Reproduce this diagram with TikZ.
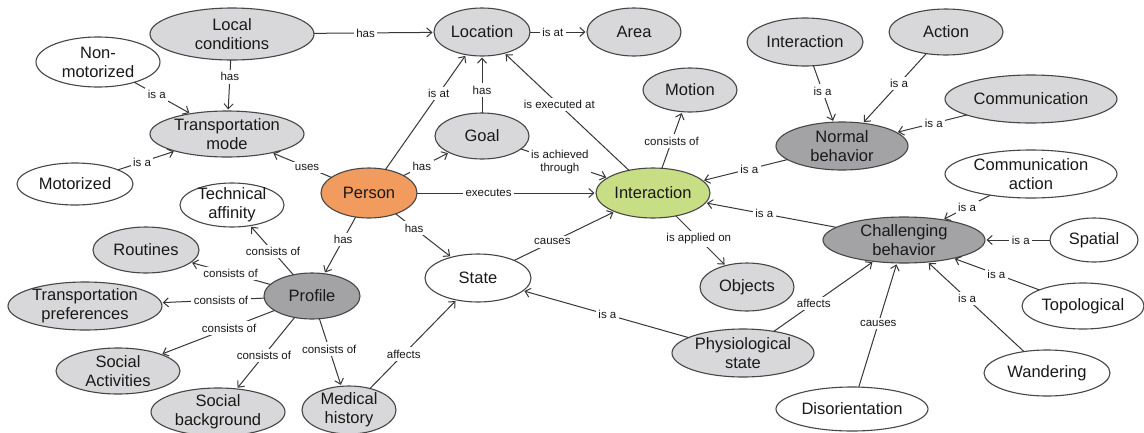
\documentclass[tikz,border=0pt]{standalone}
\usepackage{fontspec}
\setmainfont{Liberation Sans}
\usetikzlibrary{shapes.geometric,arrows.meta}
\definecolor{lgfill}{RGB}{216,216,218}
\definecolor{dgfill}{RGB}{163,163,166}
\definecolor{orfill}{RGB}{241,155,95}
\definecolor{grfill}{RGB}{200,222,133}
\definecolor{bord}{RGB}{70,70,70}
\definecolor{edgec}{RGB}{55,55,55}
\newcommand\enode[6]{%
  \node[#1, minimum width=2*#4, minimum height=2*#5] (#2) at (#3) {};
  \node[ntext] (#2-t) at (#2.center) {#6};}
\tikzset{
  base/.style={ellipse, draw=bord, line width=1.1pt, inner sep=0pt, outer sep=0pt},
  lf/.style={base, fill=lgfill},
  wf/.style={base, fill=white},
  df/.style={base, fill=dgfill},
  of/.style={base, fill=orfill},
  gf/.style={base, fill=grfill},
  ntext/.style={align=center, inner sep=0pt, font=\fontsize{16.5}{19}\selectfont, text=black!90},
  edge/.style={draw=edgec, line width=1pt, -{Straight Barb[length=5pt,width=9pt,line width=1pt]}, shorten >=1.5pt},
  lbl/.style={fill=white, inner sep=2.5pt, align=center, font=\fontsize{11.5}{12.5}\selectfont, text=black!90},
}
\begin{document}
\begin{tikzpicture}[x=1pt,y=-1pt]
\useasboundingbox[fill=white] (0,0) rectangle (1144,432);
% nodes
\enode{lf}{lc}{232,34}{82}{26}{Local\\conditions}
\enode{wf}{nm}{98,62}{62}{25}{Non-\\motorized}
\enode{lf}{tm}{227,134}{77}{23}{Transportation\\mode}
\enode{wf}{mo}{75,184}{58}{21}{Motorized}
\enode{wf}{ta}{232,205}{52}{22}{Technical\\affinity}
\enode{of}{pe}{369,193}{48}{25}{Person}
\enode{lf}{loc}{482,32}{48}{24}{Location}
\enode{lf}{area}{634,32}{47}{24}{Area}
\enode{lf}{goal}{482,136}{47}{23}{Goal}
\enode{lf}{mot}{690,90}{47}{22}{Motion}
\enode{gf}{int}{653,193}{57}{25}{Interaction}
\enode{lf}{intb}{805,42}{58}{24}{Interaction}
\enode{lf}{act}{946,32}{57}{23}{Action}
\enode{lf}{com}{1031,99}{86}{24}{Communication}
\enode{df}{nb}{842,146}{66}{24}{Normal\\behavior}
\enode{wf}{ca}{1031,174}{86}{24}{Communication\\action}
\enode{df}{cb}{904,240}{81}{23}{Challenging\\behavior}
\enode{wf}{spa}{1094,240}{44}{22}{Spatial}
\enode{wf}{topo}{1083,306}{61}{23}{Topological}
\enode{wf}{wan}{1047,373}{63}{23}{Wandering}
\enode{wf}{dis}{852,409}{76}{22}{Disorientation}
\enode{lf}{obj}{747,287}{47}{24}{Objects}
\enode{lf}{phy}{743,353}{71}{24}{Physiological\\state}
\enode{wf}{st}{478,278}{53}{24}{State}
\enode{df}{pro}{312,296}{48}{23}{Profile}
\enode{lf}{rou}{146,250}{53}{23}{Routines}
\enode{lf}{tp}{85,306}{77}{24}{Transportation\\preferences}
\enode{lf}{sa}{118,371}{62}{23}{Social\\Activities}
\enode{lf}{sb}{218,412}{67}{24}{Social\\background}
\enode{lf}{mh}{349,410}{47}{24}{Medical\\history}
% edges
\draw[edge] (lc) -- node[lbl,pos=0.43]{has} (loc);
\draw[edge] (lc) -- node[lbl,pos=0.33]{has} (tm);
\draw[edge] (nm) -- node[lbl,pos=0.4]{is a} (tm);
\draw[edge] (mo) -- node[lbl,pos=0.42]{is a} (tm);
\draw[edge] (pe) -- node[lbl,pos=0.41]{uses} (tm);
\draw[edge] (pe) -- node[lbl,pos=0.66]{is at} (loc);
\draw[edge] (goal) -- node[lbl,pos=0.4]{has} (loc);
\draw[edge] (int) -- node[lbl,pos=0.56]{is executed at} (loc);
\draw[edge] (loc) -- node[lbl,pos=0.4]{is at} (area);
\draw[edge] (pe) -- node[lbl,pos=0.4]{has} (goal);
\draw[edge] (goal) -- node[lbl,pos=0.45]{is achieved\\through} (int);
\draw[edge] (pe) -- node[lbl,pos=0.4]{executes} (int);
\draw[edge] (int) -- node[lbl,pos=0.48]{consists of} (mot);
\draw[edge] (nb) -- node[lbl,pos=0.45]{is a} (int);
\draw[edge] (cb) -- node[lbl,pos=0.55]{is a} (int);
\draw[edge] (intb) -- node[lbl,pos=0.45]{is a} (nb);
\draw[edge] (act) -- node[lbl,pos=0.43]{is a} (nb);
\draw[edge] (com) -- node[lbl,pos=0.47]{is a} (nb);
\draw[edge] (ca) -- node[lbl,pos=0.49]{is a} (cb);
\draw[edge] (spa) -- node[lbl,pos=0.45]{is a} (cb);
\draw[edge] (topo) -- node[lbl,pos=0.5]{is a} (cb);
\draw[edge] (wan) -- node[lbl,pos=0.59]{is a} (cb);
\draw[edge] (dis) -- node[lbl,pos=0.51]{causes} (cb);
\draw[edge] (phy) -- node[lbl,pos=0.4]{affects} (cb);
\draw[edge] (phy) -- node[lbl,pos=0.49]{is a} (st);
\draw[edge] (st) -- node[lbl,pos=0.38]{causes} (int);
\draw[edge] (int) -- node[lbl,pos=0.46]{is applied on} (obj);
\draw[edge] (pe) -- node[lbl,pos=0.33]{has} (st);
\draw[edge] (pe) -- node[lbl,pos=0.4]{has} (pro);
\draw[edge] (pro) -- node[lbl,pos=0.47]{consists of} (ta);
\draw[edge] (pro) -- node[lbl,pos=0.5]{consists of} (rou);
\draw[edge] (pro) -- node[lbl,pos=0.42]{consists of} (tp);
\draw[edge] (pro) -- node[lbl,pos=0.4]{consists of} (sa);
\draw[edge] (pro) -- node[lbl,pos=0.53]{consists of} (sb);
\draw[edge] (pro) -- node[lbl,pos=0.45]{consists of} (mh);
\draw[edge] (mh) -- node[lbl,pos=0.39]{affects} (st);
\end{tikzpicture}
\end{document}
